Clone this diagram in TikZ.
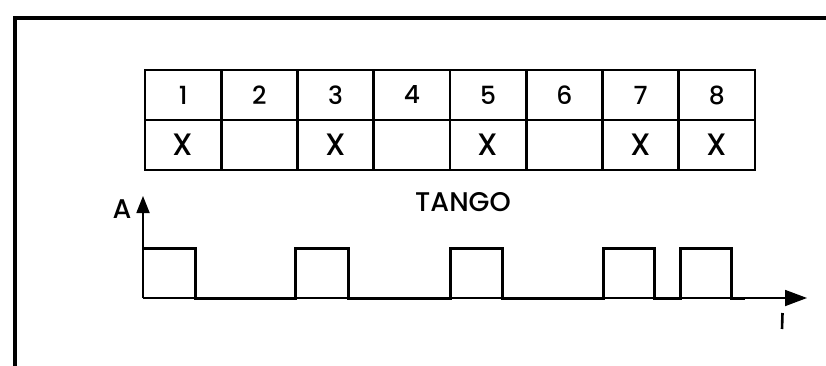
\documentclass[tikz,border=0pt]{standalone}
\usepackage{fontspec}
\setmainfont{Poppins}[UprightFont=* Medium]
\usetikzlibrary{arrows.meta}
\begin{document}
\begin{tikzpicture}[x=1pt,y=-1pt,
  cellbox/.style={draw, line width=2.6pt, minimum width=76.25pt, minimum height=50pt, inner sep=0pt, font=\fontsize{25}{25}\selectfont},
  markbox/.style={cellbox, font=\fontsize{31}{31}\selectfont},
  lbl/.style={font=\fontsize{27}{27}\selectfont, inner sep=0pt},
  wave/.style={line width=3pt, line join=miter},
  axisline/.style={line width=1.8pt}]
\useasboundingbox[fill=white] (0,0) rectangle (826,366);
% frame
\draw[line width=4pt] (15,366) -- (15,18) -- (826,18);
% table
\foreach \i/\t/\m in {1/1/X,2/2/,3/3/X,4/4/,5/5/X,6/6/,7/7/X,8/8/X} {
  \node[cellbox] (n\i) at ({145+76.25*(\i-0.5)},95) {\t};
  \node[markbox] (m\i) at ({145+76.25*(\i-0.5)},145) {\m};
}
% labels
\node[lbl] (A) at (122,209) {A};
\node[lbl] (tango) at (463,202) {TANGO};
% axes
\coordinate (o) at (143,298);
\coordinate (ytop) at (143,196);
\coordinate (xend) at (807,298);
\draw[axisline,-{Triangle[length=17pt,width=13pt]}] (o) -- (ytop);
\draw[axisline,-{Triangle[length=22pt,width=16pt]}] (o) -- (xend);
% waveform
\draw[wave] (143,248) -- (195,248) -- (195,298) -- (295,298) -- (295,248) -- (348,248) -- (348,298)
  -- (450,298) -- (450,248) -- (502,248) -- (502,298) -- (603,298) -- (603,248) -- (654,248) -- (654,298)
  -- (680,298) -- (680,248) -- (731,248) -- (731,298) -- (745,298);
% mark below axis
\draw[line width=2.6pt] (782.5,313) -- (782,329);
\end{tikzpicture}
\end{document}
